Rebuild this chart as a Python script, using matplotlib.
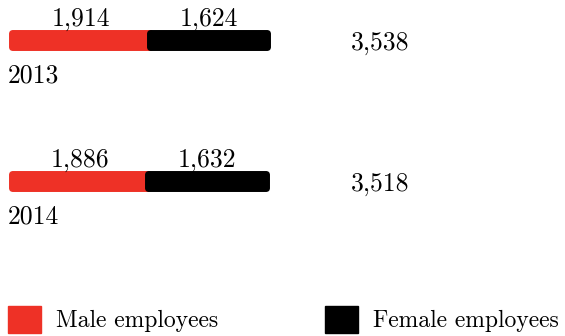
import matplotlib
matplotlib.use("Agg")
import matplotlib.pyplot as plt
from matplotlib.patches import Patch
from matplotlib.transforms import blended_transform_factory

# employees per year, split by gender
years = ["2013", "2014"]
male = [1914, 1886]
female = [1624, 1632]
totals = [3538, 3518]

red = "#ee3126"
black = "#000000"

plt.rcParams["font.family"] = ["cmr10", "DejaVu Serif"]
plt.rcParams["axes.unicode_minus"] = False

fig = plt.figure(figsize=(5.65, 3.36), dpi=100)
ax = fig.add_axes([0, 0, 1, 1])
ax.set_xlim(-169, 7667)
ax.set_ylim(2.096, -0.287)
ax.axis("off")

pos = list(range(len(years)))
h = 0.0995
lw = 5.0  # round-joined stroke gives the rounded ends

b1 = ax.barh(pos, male, height=h, color=red, edgecolor=red, linewidth=lw)
b2 = ax.barh(pos, female, left=male, height=h, color=black, edgecolor=black, linewidth=lw)
for p in list(b1) + list(b2):
    p.set_joinstyle("round")

tr = blended_transform_factory(ax.transAxes, ax.transData)
for i in pos:
    ax.text(male[i] / 2, i - 0.106, f"{male[i]:,}", ha="center", va="baseline", fontsize=18.5)
    ax.text(male[i] + female[i] / 2, i - 0.106, f"{female[i]:,}", ha="center", va="baseline", fontsize=18.5)
    ax.text(0.672, i + 0.067, f"{totals[i]:,}", ha="center", va="baseline", fontsize=18.5, transform=tr)
    ax.text(8 / 565, i + 0.298, years[i], ha="left", va="baseline", fontsize=18.5,
            transform=tr)

handles = [Patch(color=red, label="Male employees"), Patch(color=black, label="Female employees")]
fig.legend(handles=handles, loc="lower left", bbox_to_anchor=(8 / 565, 3 / 336), ncol=2,
           frameon=False, fontsize=17, handlelength=1.4, handleheight=1.4,
           handletextpad=0.64, columnspacing=4.5, borderpad=0, borderaxespad=0)

fig.savefig("out.png", dpi=100)
